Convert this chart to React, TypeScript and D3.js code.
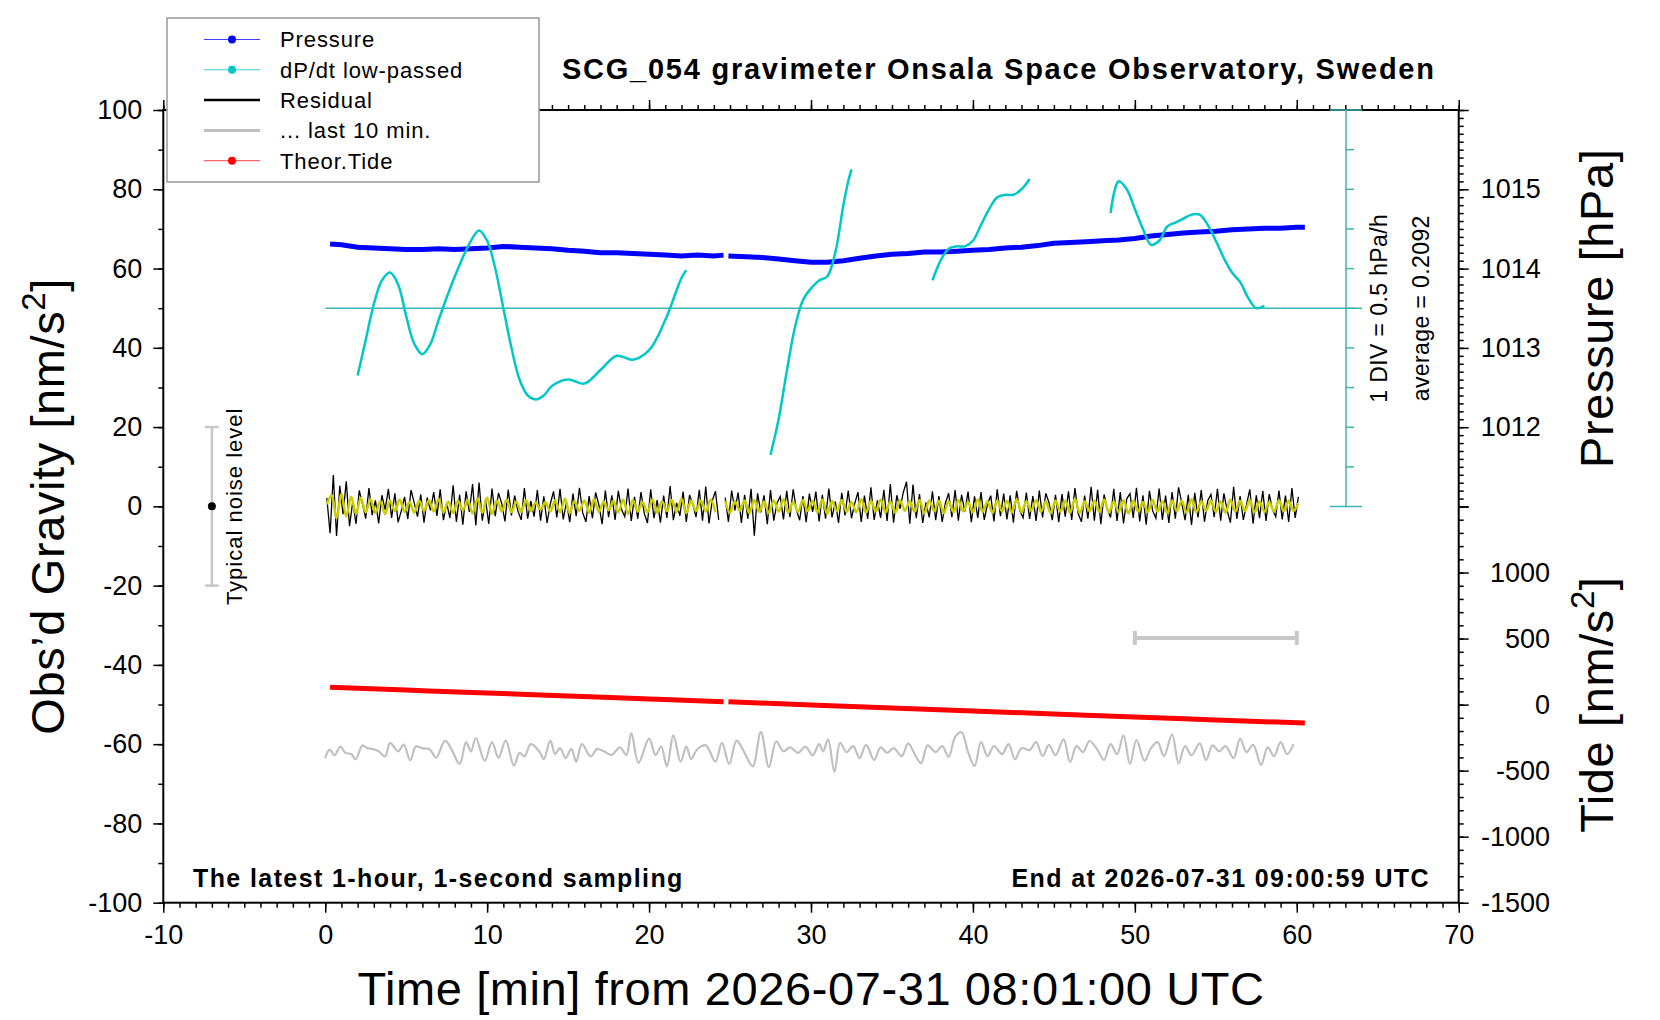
import React, { useEffect, useRef } from "react";
import * as d3 from "d3";

// ---- tick labels ----
const timeTicks = [-10, 0, 10, 20, 30, 40, 50, 60, 70];
const gravityTicks = [-100, -80, -60, -40, -20, 0, 20, 40, 60, 80, 100];
const pressureTicks = [1012, 1013, 1014, 1015];
const tideTicks = [-1500, -1000, -500, 0, 500, 1000];

// ---- air pressure [hPa], 1-s sampling read at ~1 min (null = data gap) ----
const pressureTime = [
  0.3, 1, 2, 3, 4, 5, 6, 7, 8, 9, 10, 11, 12, 13, 14, 15, 16, 17, 18, 19, 20, 21, 22, 23, 24, 24.6, 24.75,
  24.9, 26, 27, 28, 29, 30, 31, 32, 33, 34, 35, 36, 37, 38, 39, 40, 41, 42, 43, 44, 45, 46, 47, 48, 49, 50,
  51, 52, 53, 54, 55, 56, 57, 58, 59, 60, 60.5,
];
const pressureValue = [
  1014.31, 1014.3, 1014.27, 1014.26, 1014.25, 1014.24, 1014.24, 1014.25, 1014.24, 1014.25, 1014.26, 1014.28,
  1014.27, 1014.26, 1014.25, 1014.23, 1014.22, 1014.2, 1014.2, 1014.19, 1014.18, 1014.17, 1014.16, 1014.17,
  1014.16, 1014.17, null, 1014.16, 1014.15, 1014.14, 1014.12, 1014.1, 1014.08, 1014.08, 1014.1, 1014.13,
  1014.16, 1014.18, 1014.19, 1014.21, 1014.21, 1014.22, 1014.23, 1014.24, 1014.26, 1014.27, 1014.29, 1014.32,
  1014.33, 1014.34, 1014.35, 1014.36, 1014.38, 1014.41, 1014.43, 1014.45, 1014.46, 1014.47, 1014.49, 1014.5,
  1014.51, 1014.51, 1014.52, 1014.52,
];

// ---- dP/dt low-passed [hPa/h] ----
const dpdtAverage = 0.2092;
const dpdtDiv = 0.5;
const dpdtTime = [
  2.0, 2.5, 3.0, 3.5, 4.0, 4.5, 5.0, 5.5, 6.0, 6.5, 7.0, 8.0, 9.0, 9.5, 10.0, 10.5, 11.0, 11.5, 12.0, 12.5,
  13.0, 13.5, 14.0, 15.0, 16.0, 17.0, 18.0, 19.0, 20.0, 21.0, 22.0, 22.3, 25,
  27.5, 28.0, 28.5, 29.0, 29.5, 30.0, 30.5, 31.0, 31.5, 32.0, 32.3, 32.5, 35,
  37.5, 38.0, 38.5, 39.0, 39.5, 40.0, 40.5, 41.0, 41.5, 42.0, 42.5, 43.0, 43.5, 46,
  48.5, 49.0, 49.5, 50.0, 50.5, 51.0, 51.5, 52.0, 52.5, 53.0, 53.5, 54.0, 54.5, 55.0, 55.5, 56.0, 56.5,
  57.0, 57.5, 58.0,
];
const dpdtValue = [
  -0.64, -0.19, 0.26, 0.56, 0.66, 0.51, 0.11, -0.24, -0.37, -0.24, 0.06, 0.61, 1.06, 1.19, 1.06, 0.71, 0.21,
  -0.29, -0.69, -0.89, -0.94, -0.89, -0.77, -0.69, -0.74, -0.57, -0.39, -0.44, -0.32, 0.06, 0.59, 0.69, null,
  -1.64, -1.19, -0.59, -0.04, 0.31, 0.46, 0.56, 0.61, 0.91, 1.51, 1.81, 1.96, null,
  0.56, 0.81, 0.96, 0.99, 0.99, 1.06, 1.26, 1.46, 1.61, 1.64, 1.64, 1.71, 1.84, null,
  1.41, 1.81, 1.71, 1.46, 1.21, 1.01, 1.06, 1.24, 1.29, 1.34, 1.39, 1.39, 1.26, 1.06, 0.84, 0.66, 0.54,
  0.34, 0.21, 0.24,
];

// ---- residual gravity [nm/s^2], read every 0.2 min from t = 0.1 ----
const residualStart = 0.1;
const residualStep = 0.2;
const residualValue = [
  2.1, -6.8, 7.9, -7.5, 5.2, -2.0, 6.3, -5.0, 1.2, -4.4,
  4.0, 0.6, -3.1, 4.6, -2.2, 1.5, -4.3, 2.8, -0.9, 4.4,
  -2.9, 3.3, -4.0, -1.1, 2.4, -3.2, 4.1, 0.8, -2.6, 3.0,
  -4.1, 2.2, -1.0, 3.6, -2.4, 4.3, -3.5, 0.9, -3.0, 5.3,
  -3.9, 2.9, -4.6, 3.8, -1.4, 5.6, -4.8, 6.0, -3.6, 1.7,
  -4.4, 4.5, -2.5, 3.4, 0.7, -3.8, 4.2, -2.3, 2.7, -1.2,
  -3.4, 4.6, -3.1, 1.3, -2.6, 4.1, -3.6, 2.5, -4.2, 0.6,
  3.8, -2.8, 4.4, -3.3, 1.1, -4.0, 3.2, -2.5, 4.7, -1.6,
  -3.9, 2.6, -3.0, 3.5, 0.4, -4.5, 4.0, -2.7, 2.8, -3.4,
  3.9, -0.8, -2.6, 4.5, -3.7, 2.4, -3.1, 3.6, -1.7, -4.2,
  4.3, -3.0, 1.6, -4.1, 2.7, -2.9, 5.1, -3.5, 0.9, -2.4,
  3.7, -3.9, 2.9, 0.5, -2.7, 4.2, -3.6, 5.0, -4.3, 1.4,
  3.8, -3.4, null, 2.2, -3.9, 4.0, -1.0, 3.5, -4.2, 2.9,
  -3.1, 4.4, -7.4, 3.3, -1.5, 2.8, -4.5, 4.1, -3.6, 0.8,
  2.5, -3.3, 3.9, -2.7, 4.3, -0.9, -3.5, 2.6, -4.0, 3.2,
  -1.4, 3.7, -3.8, 2.9, -3.1, 4.5, -2.8, 1.2, -4.2, 3.4,
  -2.3, 4.0, -3.0, 0.7, 3.6, -3.9, 2.7, -3.2, 4.8, -3.4,
  1.5, -2.9, 4.2, -3.7, 5.6, -4.1, 2.8, -0.6, 3.5, 6.2,
  -4.4, 5.5, -3.0, 3.1, -4.2, 1.0, -2.8, 3.8, -3.5, 2.6,
  -3.9, 0.8, 3.3, -2.7, 4.1, -3.6, 2.9, -1.3, 3.7, -4.0,
  2.5, -2.9, 3.6, -3.4, 0.6, 2.7, -3.8, 4.3, -2.5, 3.2,
  -3.3, 2.8, -4.1, 3.9, -1.2, -2.9, 3.5, -3.2, 2.6, -3.7,
  4.0, -2.8, 3.3, 0.9, -3.5, 2.9, -4.0, 3.1, -2.6, 3.8,
  -3.4, 4.6, -1.8, -3.9, 2.7, -3.1, 4.9, -3.6, 4.2, -4.5,
  3.0, -0.7, -2.8, 4.4, -3.7, 3.6, -4.3, 1.9, 3.2, -2.9,
  4.7, -3.8, 2.8, -4.6, 3.9, -1.1, -3.0, 4.5, -3.4, 2.7,
  -4.2, 3.6, -3.1, 4.8, 0.8, -3.5, 2.9, -4.7, 3.4, -2.8,
  4.1, -3.9, 1.4, 3.0, -2.7, 4.4, -3.6, 3.3, -1.0, -4.1,
  4.9, -3.2, 2.6, -3.4, 0.5, 4.3, -4.4, 2.8, -3.0, 3.9,
  -3.7, 3.1, -0.8, -2.6, 4.0, -3.3, 2.7, -3.9, 4.6, -2.9,
  2.4,
];

// ---- low-passed residual (yellow), read every 0.3 min from t = 0.1 ----
const smoothStart = 0.1;
const smoothStep = 0.3;
const smoothValue = [
  0.5, 2.8, -3.0, 3.2, -2.6, 2.4, -1.9, 2.2, -1.5, 1.8,
  -1.6, 1.3, -1.9, 1.5, -1.2, 1.7, -1.4, 1.1, -1.6, 1.4,
  -1.1, 1.5, -1.3, 1.8, -1.5, 1.2, -1.7, 1.4, -1.0, 1.6,
  -1.8, 2.0, -1.6, 2.2, -1.9, 1.5, -1.3, 1.7, -1.5, 1.2,
  -1.4, 1.6, -1.2, 1.0, -0.8, 1.1, -1.3, 1.6, -1.5, 1.9,
  -1.7, 1.3, -1.1, 1.5, -1.6, 1.8, -1.4, 1.2, -1.0, 1.4,
  -1.5, 1.7, -1.9, 1.6, -1.3, 1.1, -1.5, 1.8, -1.6, 1.3,
  -1.2, 1.6, -1.4, 1.9, -1.7, 1.4, -1.2, 1.5, -1.3, 1.7,
  -1.5, null, 1.4, -1.6, 1.3, -1.1, 1.5, -1.8, 1.6, -1.4,
  1.2, -1.7, 1.5, -1.3, 1.8, -1.6, 1.1, -1.4, 1.6, -1.2,
  1.4, -1.5, 1.7, -1.9, 1.3, -1.2, 1.6, -1.4, 1.1, -1.5,
  1.8, -1.6, 1.4, -1.3, 1.7, -1.5, 1.2, -1.6, 1.5, -1.1,
  1.3, -1.4, 1.6, -1.8, 1.5, -1.2, 1.4, -1.7, 1.3, -1.5,
  1.6, -1.3, 1.1, -1.5, 1.7, -1.4, 1.2, -1.6, 1.5, -1.3,
  1.4, -1.6, 1.8, -1.5, 1.3, -1.1, 1.6, -1.4, 1.2, -1.7,
  1.5, -1.3, 1.4, -1.6, 1.9, -1.7, 1.3, -1.2, 1.5, -1.4,
  1.7, -1.5, 1.2, -1.4, 1.6, -1.8, 1.4, -1.3, 1.1, -1.5,
  1.6, -1.4, 1.3, -1.7, 1.5, -1.2, 1.4, -1.6, 1.8, -1.5,
  1.3, -1.1, 1.5, -1.4, 1.2, -1.6, 1.7, -1.3, 1.4, -1.2,
  1.6, -1.5, 1.3, -1.4, 1.1, -1.3, 1.5, -1.2, 1.4, -1.1,
  0.8,
];

// ---- "... last 10 min." residual, stretched over the hour, offset [nm/s^2] ----
const lastTime = [
  0.0, 0.27, 0.58, 0.93, 1.25, 1.6, 1.88, 2.3, 2.6, 2.9, 3.3, 3.7, 4.0, 4.5, 4.85, 5.25, 5.6, 6.0, 6.45, 6.85,
  7.4, 7.8, 8.3, 8.7, 9.0, 9.3, 9.85, 10.3, 10.7, 11.15, 11.65, 12.0, 12.3, 12.7, 13.25, 13.5, 13.9, 14.2,
  14.5, 14.85, 15.2, 15.5, 15.85, 16.4, 16.8, 17.2, 17.7, 18.2, 18.6, 18.9, 19.35, 20.0, 20.4, 20.75, 21.1,
  21.5, 21.95, 22.3, 22.6, 22.95, 23.5, 24.1, 24.5, 24.95, 25.4, 25.9, 26.4, 26.9, 27.4, 27.85, 28.3, 28.7,
  29.2, 29.65, 30.1, 30.5, 30.75, 31.05, 31.45, 31.8, 32.2, 32.6, 33.0, 33.4, 33.9, 34.3, 34.7, 35.1, 35.6,
  36.0, 36.4, 36.8, 37.2, 37.7, 38.1, 38.5, 38.9, 39.3, 39.7, 40.1, 40.5, 40.9, 41.3, 41.8, 42.2, 42.6,
  43.0, 43.5, 43.9, 44.3, 44.7, 45.1, 45.6, 46.0, 46.4, 46.8, 47.2, 47.7, 48.1, 48.5, 48.9, 49.3, 49.7,
  50.1, 50.6, 51.0, 51.4, 51.8, 52.3, 52.7, 53.1, 53.5, 54.0, 54.4, 54.8, 55.2, 55.6, 56.1, 56.5, 56.9,
  57.3, 57.8, 58.2, 58.6, 59.0, 59.4, 59.8,
];
const lastValue = [
  -63.5, -61.4, -62.8, -60.6, -62.2, -62.5, -63.8, -60.3, -61.0, -61.2, -61.8, -63.1, -59.7, -61.8, -60.1,
  -64.1, -60.6, -61.0, -61.3, -63.4, -59.1, -61.3, -65.0, -59.5, -61.8, -58.5, -64.2, -59.5, -63.4, -59.1,
  -65.4, -62.2, -63.1, -60.0, -62.0, -63.8, -59.1, -62.5, -61.0, -63.5, -61.2, -64.4, -60.0, -63.1, -61.2,
  -61.8, -62.7, -60.8, -62.7, -57.2, -64.7, -58.6, -62.7, -60.6, -65.6, -57.8, -64.4, -60.6, -63.7, -61.4,
  -60.3, -64.4, -59.7, -65.0, -59.1, -62.2, -65.6, -56.9, -65.8, -59.3, -61.8, -60.8, -62.2, -60.6, -62.8,
  -60.0, -61.8, -58.8, -67.0, -59.7, -62.0, -60.5, -63.5, -60.2, -64.0, -60.8, -62.2, -61.0, -63.0, -59.8,
  -62.5, -64.8, -60.3, -62.0, -60.5, -63.2, -58.2, -57.0, -62.0, -65.5, -59.5, -63.0, -60.5, -62.5, -60.0,
  -63.8, -61.0, -61.5, -59.5, -63.0, -60.2, -62.8, -58.8, -64.5, -60.5, -62.0, -59.2, -61.5, -64.0, -60.0,
  -62.5, -57.8, -65.0, -59.0, -64.2, -61.0, -59.5, -63.0, -57.5, -64.8, -60.5, -62.8, -59.8, -64.0, -60.3,
  -61.8, -60.5, -63.5, -58.6, -62.0, -60.2, -65.2, -60.8, -63.0, -59.5, -62.5, -60.0,
];
const lastWindow = [50, 60];

// ---- theoretical tide [nm/s^2] ----
const tideTime = [0.3, 5, 10, 15, 20, 24.6, 24.75, 24.9, 30, 35, 40, 45, 50, 55, 60.5];
const tideValue = [131, 110, 88, 65, 43, 22, null, 21, -3, -26, -48, -71, -94, -116, -140];

const legendLabels = ["Pressure", "dP/dt low-passed", "Residual", "... last 10 min.", "Theor.Tide"];

const FONT = '"Liberation Sans", Arial, Helvetica, sans-serif';
const W = 1660;
const H = 1020;

const App: React.FC = () => {
  const ref = useRef<SVGSVGElement>(null);

  useEffect(() => {
    if (!ref.current) return;
    const svg = d3.select(ref.current);
    svg.selectAll("*").remove();

    const left = 163.3, right = 1458.7, top = 110, bottom = 902.7;
    const mid = 506.5;

    const x = d3.scaleLinear().domain([-10, 70]).range([left, right]);
    const yG = d3.scaleLinear().domain([-100, 100]).range([bottom, top]);
    const yP = d3.scaleLinear().domain([1011, 1016]).range([mid, top]);
    const yT = d3.scaleLinear().domain([-1500, 1500]).range([bottom, mid]);
    const yD = d3
      .scaleLinear()
      .domain([dpdtAverage - 5 * dpdtDiv, dpdtAverage + 5 * dpdtDiv])
      .range([mid, top]);

    svg.append("rect").attr("width", W).attr("height", H).attr("fill", "white");

    const styleAxis = (g: any) => {
      g.select(".domain").remove();
      g.selectAll("line").attr("stroke", "black").attr("stroke-width", 1.5);
      g.selectAll("text").attr("font-family", FONT).attr("font-size", 27).attr("fill", "black");
    };
    const plain = (d: any) => String(d);

    // minor ticks
    svg.append("g").attr("transform", `translate(${left},0)`)
      .call(d3.axisLeft(yG).tickValues(d3.range(-100, 101, 10)).tickSize(5).tickSizeOuter(0).tickFormat(() => ""))
      .call(styleAxis);
    svg.append("g").attr("transform", `translate(0,${bottom})`)
      .call(d3.axisBottom(x).tickValues(d3.range(-10, 71, 1)).tickSize(5).tickSizeOuter(0).tickFormat(() => ""))
      .call(styleAxis);
    svg.append("g").attr("transform", `translate(0,${top})`)
      .call(d3.axisTop(x).tickValues(d3.range(-10, 71, 1)).tickSize(5).tickSizeOuter(0).tickFormat(() => ""))
      .call(styleAxis);
    svg.append("g").attr("transform", `translate(${right},0)`)
      .call(d3.axisRight(yP).tickValues(d3.range(10110, 10161, 1).map((v) => v / 10)).tickSize(5).tickSizeOuter(0).tickFormat(() => ""))
      .call(styleAxis);
    svg.append("g").attr("transform", `translate(${right},0)`)
      .call(d3.axisRight(yT).tickValues(d3.range(-1500, 1501, 100)).tickSize(5).tickSizeOuter(0).tickFormat(() => ""))
      .call(styleAxis);

    // major ticks + labels
    svg.append("g").attr("transform", `translate(${left},0)`)
      .call(d3.axisLeft(yG).tickValues(gravityTicks).tickSize(10).tickSizeOuter(0).tickPadding(11).tickFormat(plain))
      .call(styleAxis);
    svg.append("g").attr("transform", `translate(0,${bottom})`)
      .call(d3.axisBottom(x).tickValues(timeTicks).tickSize(10).tickSizeOuter(0).tickPadding(12).tickFormat(plain))
      .call(styleAxis);
    svg.append("g").attr("transform", `translate(0,${top})`)
      .call(d3.axisTop(x).tickValues(timeTicks).tickSize(10).tickSizeOuter(0).tickFormat(() => ""))
      .call(styleAxis);
    svg.append("g").attr("transform", `translate(${right},0)`)
      .call(d3.axisRight(yP).tickValues(d3.range(1011, 1017)).tickSize(10).tickSizeOuter(0).tickPadding(12)
        .tickFormat((d) => (pressureTicks.includes(+d) ? String(d) : "")))
      .call(styleAxis);
    svg.append("g").attr("transform", `translate(${right},0)`)
      .call(d3.axisRight(yT).tickValues(d3.range(-1500, 1501, 500)).tickSize(10).tickSizeOuter(0)
        .tickFormat((d) => (tideTicks.includes(+d) ? String(d) : "")))
      .call(styleAxis)
      .call((g) => g.selectAll("text").attr("text-anchor", "end").attr("x", 1550 - right));

    // frame
    svg.append("rect")
      .attr("x", left).attr("y", top).attr("width", right - left).attr("height", bottom - top)
      .attr("fill", "none").attr("stroke", "black").attr("stroke-width", 2);

    // dP/dt axis
    const cyanAxis = "#3cb4b4";
    const cx = 1346;
    const ca = svg.append("g").attr("stroke", cyanAxis).attr("stroke-width", 1.5);
    ca.append("line").attr("x1", cx).attr("x2", cx).attr("y1", yD.range()[1]).attr("y2", yD.range()[0]);
    d3.range(-5, 6).forEach((k) => {
      const yy = yD(dpdtAverage + k * dpdtDiv);
      const full = Math.abs(k) === 5;
      ca.append("line").attr("x1", full ? cx - 16 : cx).attr("x2", full ? cx + 16 : cx + 8).attr("y1", yy).attr("y2", yy);
    });
    ca.append("line").attr("x1", x(0)).attr("x2", cx + 16).attr("y1", yD(dpdtAverage)).attr("y2", yD(dpdtAverage));

    const vText = (tx: number, ty: number, size: number, spacing: number, str: string) =>
      svg.append("text")
        .attr("transform", `translate(${tx},${ty}) rotate(-90)`)
        .attr("text-anchor", "middle").attr("font-family", FONT).attr("font-size", size)
        .attr("letter-spacing", spacing).attr("fill", "black")
        .text(str);
    vText(1387, yD(dpdtAverage), 23, 0.4, `1 DIV = ${dpdtDiv} hPa/h`);
    vText(1429, yD(dpdtAverage), 23, 0.4, `average = ${dpdtAverage}`);

    // noise level indicator
    const nx = x(-7);
    const ng = svg.append("g").attr("stroke", "#c8c8c8").attr("stroke-width", 2.5);
    ng.append("line").attr("x1", nx).attr("x2", nx).attr("y1", yG(20)).attr("y2", yG(-20));
    [20, -20].forEach((v) => ng.append("line").attr("x1", nx - 7).attr("x2", nx + 7).attr("y1", yG(v)).attr("y2", yG(v)));
    svg.append("circle").attr("cx", nx).attr("cy", yG(0)).attr("r", 4).attr("fill", "black");
    vText(242, yG(0), 22, 1.0, "Typical noise level");

    // last-10-min bar
    const bg = svg.append("g").attr("stroke", "#c8c8c8").attr("stroke-width", 4);
    const by = yG(-33.2);
    bg.append("line").attr("x1", x(lastWindow[0])).attr("x2", x(lastWindow[1])).attr("y1", by).attr("y2", by);
    lastWindow.forEach((t) => bg.append("line").attr("x1", x(t)).attr("x2", x(t)).attr("y1", by - 7).attr("y2", by + 7));

    const path = (
      ts: number[],
      vs: (number | null)[],
      ys: d3.ScaleLinear<number, number>,
      curve: d3.CurveFactory,
    ) =>
      d3.line<number>()
        .defined((i) => vs[i] != null)
        .x((i) => x(ts[i]))
        .y((i) => ys(vs[i] as number))
        .curve(curve)(d3.range(ts.length));

    const residualTime = residualValue.map((_, i) => residualStart + i * residualStep);
    const smoothTime = smoothValue.map((_, i) => smoothStart + i * smoothStep);

    svg.append("path").attr("d", path(lastTime, lastValue, yG, d3.curveCatmullRom.alpha(0.5)))
      .attr("fill", "none").attr("stroke", "#c0c0c0").attr("stroke-width", 2.2);
    svg.append("path").attr("d", path(tideTime, tideValue, yT, d3.curveMonotoneX))
      .attr("fill", "none").attr("stroke", "#ff0000").attr("stroke-width", 5);
    svg.append("path").attr("d", path(residualTime, residualValue, yG, d3.curveLinear))
      .attr("fill", "none").attr("stroke", "black").attr("stroke-width", 1.3);
    svg.append("path").attr("d", path(smoothTime, smoothValue, yG, d3.curveCatmullRom.alpha(0.5)))
      .attr("fill", "none").attr("stroke", "#cccc00").attr("stroke-width", 2.5);
    svg.append("path").attr("d", path(pressureTime, pressureValue, yP, d3.curveLinear))
      .attr("fill", "none").attr("stroke", "#0000ff").attr("stroke-width", 5);
    svg.append("path").attr("d", path(dpdtTime, dpdtValue, yD, d3.curveCatmullRom.alpha(0.5)))
      .attr("fill", "none").attr("stroke", "#00c8c8").attr("stroke-width", 2.5);

    // texts
    svg.append("text").attr("x", 562).attr("y", 79).attr("font-family", FONT).attr("font-size", 29)
      .attr("letter-spacing", 1.75).attr("font-weight", "bold")
      .text("SCG_054 gravimeter Onsala Space Observatory, Sweden");
    svg.append("text").attr("x", 193).attr("y", 887).attr("font-family", FONT).attr("font-size", 25)
      .attr("letter-spacing", 1.4).attr("font-weight", "bold").text("The latest 1-hour, 1-second sampling");
    svg.append("text").attr("x", 1430).attr("y", 887).attr("text-anchor", "end").attr("font-family", FONT)
      .attr("font-size", 25).attr("letter-spacing", 1.4).attr("font-weight", "bold")
      .text("End at 2026-07-31 09:00:59 UTC");
    svg.append("text").attr("x", (left + right) / 2).attr("y", 1005).attr("text-anchor", "middle")
      .attr("font-family", FONT).attr("font-size", 47).attr("letter-spacing", 0.6)
      .text("Time [min] from 2026-07-31 08:01:00 UTC");

    const axisTitle = (tx: number, ty: number, pre: string, sup: string, post: string) => {
      const t = svg.append("text")
        .attr("transform", `translate(${tx},${ty}) rotate(-90)`)
        .attr("text-anchor", "middle").attr("font-family", FONT).attr("font-size", 47)
        .attr("letter-spacing", 0.6).attr("fill", "black");
      t.append("tspan").text(pre);
      if (sup) {
        t.append("tspan").attr("dy", -19).attr("font-size", 33).text(sup);
        t.append("tspan").attr("dy", 19).text(post);
      }
    };
    axisTitle(64, (top + bottom) / 2, "Obs’d Gravity [nm/s", "2", "]");
    axisTitle(1613, (top + mid) / 2, "Pressure [hPa]", "", "");
    axisTitle(1613, (mid + bottom) / 2, "Tide [nm/s", "2", "]");

    // legend
    const lg = svg.append("g");
    lg.append("rect").attr("x", 167).attr("y", 18).attr("width", 372).attr("height", 164)
      .attr("fill", "white").attr("stroke", "#999999").attr("stroke-width", 1.5);
    const legendStyle = [
      { c: "#4040ff", w: 1, dot: "#0000ff" },
      { c: "#40d0d0", w: 1, dot: "#00c8c8" },
      { c: "black", w: 2.5, dot: "" },
      { c: "#c0c0c0", w: 3, dot: "" },
      { c: "#ff4040", w: 1, dot: "#ff0000" },
    ];
    legendLabels.forEach((lab, i) => {
      const yy = 39.5 + i * 30.3;
      const s = legendStyle[i];
      lg.append("line").attr("x1", 204).attr("x2", 260).attr("y1", yy).attr("y2", yy)
        .attr("stroke", s.c).attr("stroke-width", s.w);
      if (s.dot) lg.append("circle").attr("cx", 232).attr("cy", yy).attr("r", 4).attr("fill", s.dot);
      lg.append("text").attr("x", 280).attr("y", yy).attr("dy", "0.36em").attr("font-family", FONT)
        .attr("font-size", 22).attr("letter-spacing", 0.9).text(lab);
    });
  }, []);

  return (
    <div style={{ position: "absolute", left: 0, top: 0 }}>
      <svg ref={ref} width={W} height={H} style={{ display: "block" }}></svg>
    </div>
  );
};

export default App;
